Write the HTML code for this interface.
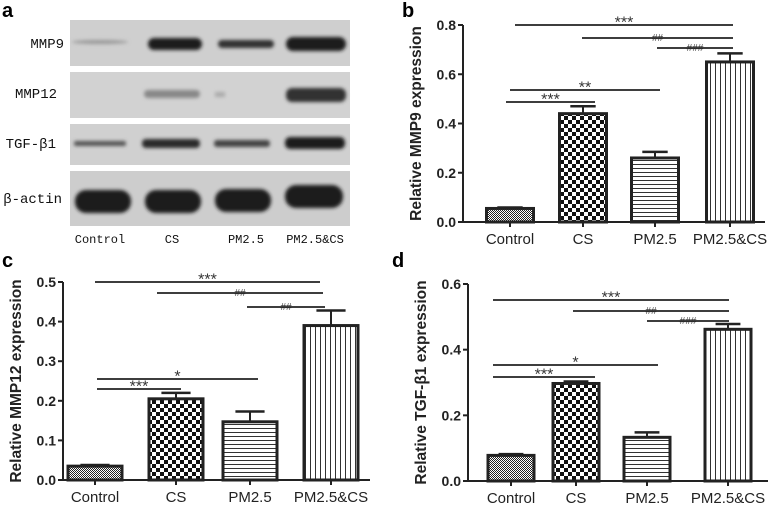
<!DOCTYPE html>
<html><head><meta charset="utf-8"><style>
body{margin:0;background:#fff;width:778px;height:505px;overflow:hidden}
svg{display:block;font-family:"Liberation Sans",Arial,sans-serif}
.mono{font-family:"Liberation Mono","Noto Sans CJK SC",monospace}
</style></head><body>
<svg id="fig" width="778" height="505" viewBox="0 0 778 505">
<defs>
<pattern id="pCtrl" width="2" height="2" patternUnits="userSpaceOnUse"><rect width="2" height="2" fill="#fff"/><rect width="1" height="1" fill="#222"/><rect x="1" y="1" width="1" height="1" fill="#222"/></pattern>
<pattern id="pCS" width="8" height="8" patternUnits="userSpaceOnUse"><rect width="8" height="8" fill="#fff"/><rect width="4" height="4" fill="#111"/><rect x="4" y="4" width="4" height="4" fill="#111"/></pattern>
<pattern id="pPM" width="4" height="4" patternUnits="userSpaceOnUse"><rect width="4" height="4" fill="#fff"/><rect y="0" width="4" height="1" fill="#333"/></pattern>
<pattern id="pPC" width="5" height="5" patternUnits="userSpaceOnUse"><rect width="5" height="5" fill="#fff"/><rect width="1" height="5" fill="#333"/></pattern>
<filter id="blur"><feGaussianBlur stdDeviation="1.8"/></filter>
</defs>
<g id="blot">
<text x="2" y="17" font-size="20" font-weight="bold">a</text>
<rect x="70" y="20" width="280" height="46" fill="#cfcfcf"/>
<rect x="70" y="72" width="280" height="46" fill="#d2d2d2"/>
<rect x="70" y="124" width="280" height="41" fill="#d0d0d0"/>
<rect x="70" y="171" width="280" height="55" fill="#cdcdcd"/>
<g filter="url(#blur)" fill="#1a1a1a">
<ellipse cx="100" cy="42" rx="28" ry="2" fill="#999"/>
<rect x="148" y="38" width="54" height="12" rx="6"/>
<rect x="218" y="40" width="56" height="8" rx="4" fill="#333"/>
<rect x="286" y="37" width="60" height="14" rx="7"/>
<rect x="144" y="90" width="56" height="8" rx="4" fill="#888"/>
<rect x="286" y="88" width="60" height="14" rx="6" fill="#333"/>
<rect x="215" y="92" width="10" height="5" fill="#aaa"/>
<rect x="74" y="141" width="52" height="5" rx="2" fill="#555"/>
<rect x="142" y="139" width="58" height="9" rx="4" fill="#2a2a2a"/>
<rect x="214" y="140" width="56" height="7" rx="3" fill="#444"/>
<rect x="285" y="137" width="60" height="12" rx="5"/>
<rect x="75" y="190" width="56" height="23" rx="11"/>
<rect x="145" y="190" width="56" height="23" rx="11"/>
<rect x="215" y="189" width="56" height="23" rx="11"/>
<rect x="285" y="185" width="58" height="23" rx="11"/>
</g>
<g class="mono" font-size="14" fill="#111">
<text x="64" y="48" text-anchor="end">MMP9</text>
<text x="57" y="98" text-anchor="end">MMP12</text>
<text x="56" y="148" text-anchor="end">TGF-β1</text>
<text x="62" y="203" text-anchor="end">β-actin</text>
<g font-size="12">
<text x="100" y="243" text-anchor="middle">Control</text>
<text x="172" y="243" text-anchor="middle">CS</text>
<text x="246" y="243" text-anchor="middle">PM2.5</text>
<text x="315" y="243" text-anchor="middle">PM2.5&amp;CS</text>
</g></g>
</g>
</svg>
<script>
const categories = ["Control","CS","PM2.5","PM2.5&CS"];
const mmp9Values = [0.055,0.44,0.26,0.65];
const mmp9Errors = [0.004,0.03,0.025,0.035];
const mmp12Values = [0.035,0.205,0.147,0.39];
const mmp12Errors = [0.003,0.015,0.026,0.038];
const tgfValues = [0.078,0.297,0.133,0.462];
const tgfErrors = [0.004,0.006,0.015,0.016];
const mmp9Ticks = ["0.0","0.2","0.4","0.6","0.8"];
const mmp12Ticks = ["0.0","0.1","0.2","0.3","0.4","0.5"];
const tgfTicks = ["0.0","0.2","0.4","0.6"];
const fills = ["url(#pCtrl)","url(#pCS)","url(#pPM)","url(#pPC)"];
const NS="http://www.w3.org/2000/svg";
const svg=document.getElementById('fig');
function mk(tag,attrs,parent){const e=document.createElementNS(NS,tag);for(const k in attrs)e.setAttribute(k,attrs[k]);(parent||svg).appendChild(e);return e;}
function panel(p){
  const g=mk('g',{});
  
  
  const max=p.max;
  const y=v=>p.y0-(v/max)*(p.y0-p.yTop);
  const x=i=>p.centers[i];
  const lbl=mk('text',{x:p.lx,y:p.ly,'font-size':20,'font-weight':'bold'},g);lbl.textContent=p.letter;
  
  
  const ya=mk('line',{x1:p.ax,x2:p.ax,y1:p.yTop,y2:p.y0,stroke:'#222','stroke-width':2},g);
  
  
  const xa=mk('line',{x1:p.ax,x2:p.xEnd,y1:p.y0,y2:p.y0,stroke:'#222','stroke-width':2},g);
  
  
  p.ticks.forEach((t,i)=>{
    const v=parseFloat(t);const yy=y(v);
    mk('line',{x1:p.ax-5,x2:p.ax,y1:yy,y2:yy,stroke:'#222','stroke-width':2},g);
    const tx=mk('text',{x:p.ax-7,y:yy+5,'font-size':14,'font-weight':'bold','text-anchor':'end',fill:'#222'},g);tx.textContent=t;
    
    
  });
  const tt=mk('text',{x:0,y:0,'font-size':15.5,'font-weight':'bold','text-anchor':'middle',fill:'#222',transform:`translate(${p.ax-42},${(p.y0+p.yTop)/2}) rotate(-90)`},g);tt.textContent=p.title;
  
  
  categories.forEach((c,i)=>{
    const v=p.values[i],e=p.errors[i];
    const cx=x(i),w=p.bw;
    const ex=mk('line',{x1:cx,x2:cx,y1:y(v),y2:y(v+e),stroke:'#222','stroke-width':2},g);
    
    
    mk('line',{x1:cx-w*0.27,x2:cx+w*0.27,y1:y(v+e),y2:y(v+e),stroke:'#222','stroke-width':2.5},g);
    const b=mk('rect',{x:cx-w/2,y:y(v),width:w,height:p.y0-y(v),fill:fills[i],stroke:'#222','stroke-width':3},g);
    
    
    mk('line',{x1:cx,x2:cx,y1:p.y0,y2:p.y0+5,stroke:'#222','stroke-width':2},g);
    const xl=mk('text',{x:cx,y:p.y0+22,'font-size':15,'text-anchor':'middle',fill:'#222'},g);xl.textContent=c;
    
    
  });
  p.sig.forEach(s=>{
    const l=mk('line',{x1:s[1],x2:s[2],y1:s[0],y2:s[0],stroke:'#222','stroke-width':1.8},g);
    
    
    const star=s[3][0]=='*';
    const t=mk('text',{x:(s[1]+s[2])/2,y:s[0]+(star?2.5:3),'font-size':star?16:10,'text-anchor':'middle',fill:'#333'},g);t.textContent=s[3];
    
    
  });
}
panel({name:'mmp9-chart',letter:'b',lx:402,ly:17,ax:463,xEnd:765,y0:222,yTop:25,max:0.8,centers:[510,583,655,730],bw:47,
 values:mmp9Values,errors:mmp9Errors,ticks:mmp9Ticks,title:'Relative MMP9 expression',
 sig:[[25,515,733,'***'],[38,582,733,'##'],[48,657,733,'###'],[90,510,660,'**'],[102,506,595,'***']]});
panel({name:'mmp12-chart',letter:'c',lx:2,ly:267,ax:63,xEnd:370,y0:480,yTop:282,max:0.5,centers:[95,176,250,331],bw:54,
 values:mmp12Values,errors:mmp12Errors,ticks:mmp12Ticks,title:'Relative MMP12 expression',
 sig:[[282,95,320,'***'],[293,157,323,'##'],[307,247,325,'##'],[379,97,258,'*'],[389,97,181,'***']]});
panel({name:'tgfb1-chart',letter:'d',lx:392,ly:267,ax:468,xEnd:768,y0:481,yTop:284,max:0.6,centers:[511,576,647,728],bw:46,
 values:tgfValues,errors:tgfErrors,ticks:tgfTicks,title:'Relative TGF-β1 expression',
 sig:[[300,493,729,'***'],[311,573,729,'##'],[321,647,729,'###'],[365,493,658,'*'],[377,493,595,'***']]});
</script>
</body></html>
